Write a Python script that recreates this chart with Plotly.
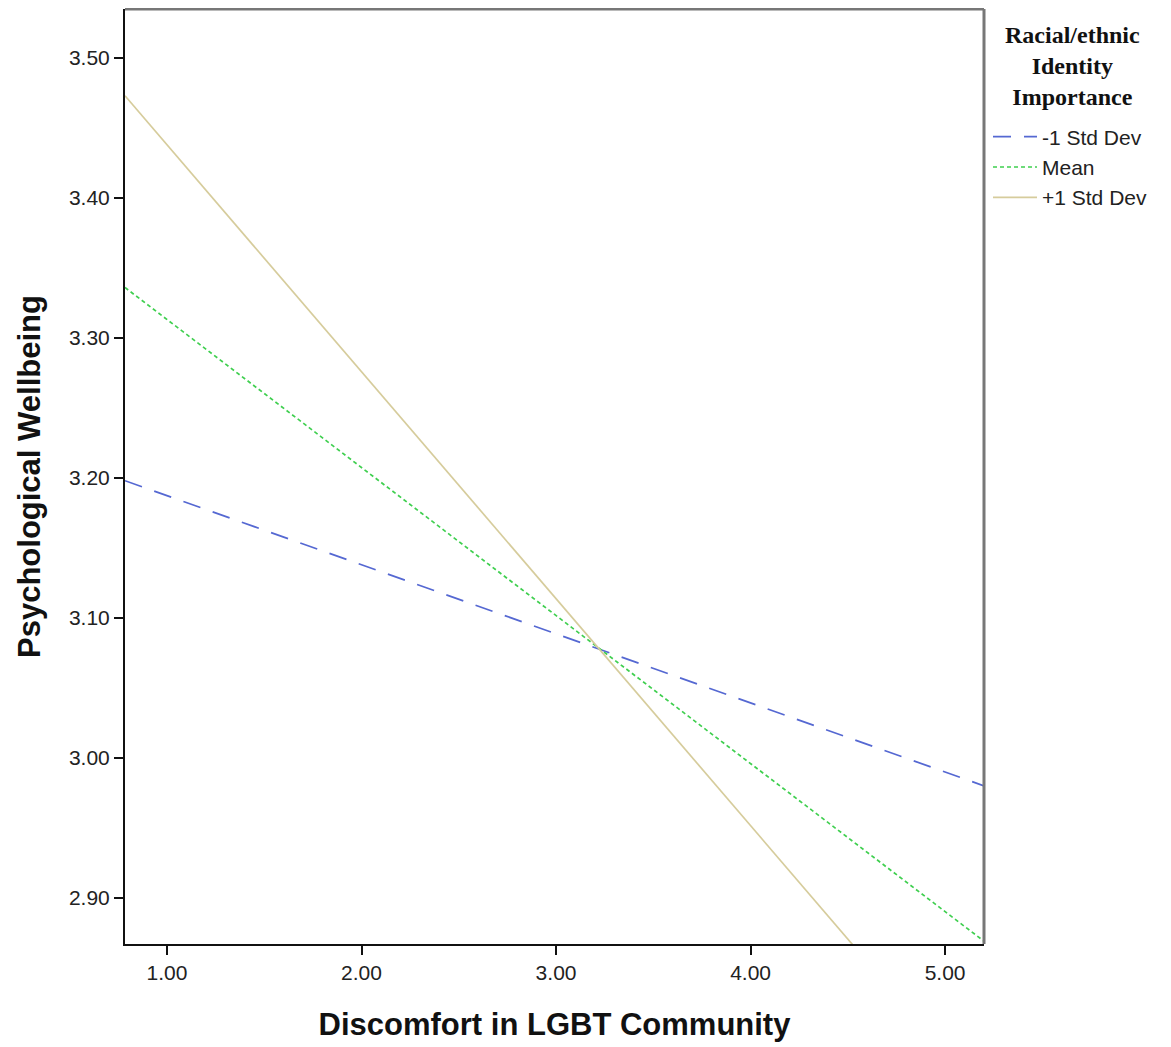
import plotly.graph_objects as go

# Data (endpoints of the fitted lines)
x_vals = [0.784, 5.2]
series_names = ["-1 Std Dev", "Mean", "+1 Std Dev"]
minus_sd = [3.198, 2.980]
mean_vals = [3.336, 2.869]
plus_sd = [3.473, 2.757]
x_ticks = [1.0, 2.0, 3.0, 4.0, 5.0]
y_ticks = [2.9, 3.0, 3.1, 3.2, 3.3, 3.4, 3.5]

colors = ["#5568d2", "#3fcf4f", "#d6cc9c"]
dashes = ["18px,13px", "4px,3px", "solid"]

W, H = 1163, 1039  # page body has an 8px margin
L, R, T, B = 117, 187, 1, 103
PW = W - L - R
PH = H - T - B

fig = go.Figure()
for name, ys, c, d in zip(series_names, [minus_sd, mean_vals, plus_sd], colors, dashes):
    fig.add_trace(go.Scatter(x=x_vals, y=ys, mode="lines", name=name,
                             line=dict(color=c, width=1.7, dash=d)))

fig.update_layout(
    width=W, height=H,
    margin=dict(l=L, r=R, t=T, b=B),
    paper_bgcolor="white", plot_bgcolor="white",
    font=dict(family="Liberation Sans, Arial, sans-serif", color="#222"),
    showlegend=True,
    legend=dict(x=1.0 + 4 / PW, xanchor="left", y=0.885, yanchor="top",
                font=dict(size=21, family="Liberation Sans, Arial", color="#222"),
                tracegroupgap=0, itemwidth=44, bgcolor="rgba(0,0,0,0)"),
    xaxis=dict(range=[0.784, 5.2], tickvals=x_ticks, ticktext=[f"{v:.2f}" for v in x_ticks],
               showgrid=False, zeroline=False, showline=True, linecolor="#111", linewidth=2,
               ticks="outside", ticklen=9, tickwidth=2, tickcolor="#111",
               tickfont=dict(size=21, color="#222"),
               title=dict(text="<b>Discomfort in LGBT Community</b>", font=dict(size=31, color="#111"), standoff=30)),
    yaxis=dict(range=[2.867, 3.535], tickvals=y_ticks, ticktext=[f"{v:.2f}" for v in y_ticks],
               showgrid=False, zeroline=False, showline=True, linecolor="#111", linewidth=2,
               ticks="outside", ticklen=9, tickwidth=2, tickcolor="#111",
               tickfont=dict(size=21, color="#222")),
    shapes=[
        dict(type="line", xref="paper", yref="paper", x0=0, x1=1, y0=1, y1=1,
             line=dict(color="#777", width=3)),
        dict(type="line", xref="paper", yref="paper", x0=1, x1=1, y0=0, y1=1,
             line=dict(color="#777", width=3)),
    ],
    annotations=[
        dict(text="<b>Racial/ethnic<br>Identity<br>Importance</b>", xref="paper", yref="paper",
             x=1.0 + 88 / PW, y=0.988, xanchor="center", yanchor="top", showarrow=False,
             align="center", font=dict(family="Liberation Serif, Times New Roman, serif", size=24, color="#111")),
        dict(text="<b>Psychological Wellbeing</b>", xref="paper", yref="paper",
             x=(22 - L) / PW, y=(PH + T - 469) / PH, xanchor="center", yanchor="middle",
             textangle=-90, showarrow=False,
             font=dict(family="Liberation Sans, Arial, sans-serif", size=31, color="#111")),
    ],
)

fig.write_html("out.html")
